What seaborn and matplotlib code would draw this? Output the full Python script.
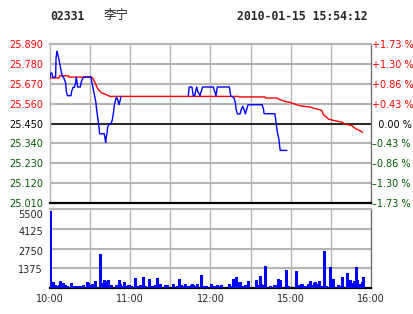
import numpy as np
import pandas as pd
import matplotlib
matplotlib.use("Agg")
import matplotlib.pyplot as plt
import matplotlib.transforms as mtransforms
import seaborn as sns

# ---------------- data ----------------
stock_code = "02331"
stock_name = "李宁"
timestamp = "2010-01-15 15:54:12"
prev_close = 25.45

price_ticks = [25.010, 25.120, 25.230, 25.340, 25.450, 25.560, 25.670, 25.780, 25.890]
vol_ticks = [1375, 2750, 4125, 5500]
time_ticks = [0, 60, 120, 180, 240]
time_labels = ["10:00", "11:00", "12:00", "15:00", "16:00"]

# price line, morning segment (trading minute, price)
am_min = [0, 0.5, 1.5, 2, 4.2, 4.5, 5.2, 5.7, 6.2, 6.7, 7.2, 7.7, 8.2, 8.7, 9.2, 10.0,
          10.7, 11.7, 12.2, 13.0, 15.7, 16.2, 17.2, 18.2, 19.2, 19.7, 20.2, 20.7, 22.7,
          23.2, 24.2, 25.2, 30.7, 31.2, 32.2, 33.2, 34.2, 34.9, 35.7, 36.6, 37.1, 40.6,
          41.1, 41.6, 42.1, 42.6, 43.1, 44.1, 45.6, 46.6, 47.6, 48.1, 49.1, 49.6, 50.6,
          51.6, 52.6, 53.1]
am_val = [25.707, 25.729, 25.729, 25.707, 25.707, 25.812, 25.849, 25.836, 25.821, 25.803,
          25.785, 25.766, 25.744, 25.729, 25.711, 25.707, 25.696, 25.674, 25.628, 25.604,
          25.604, 25.628, 25.650, 25.650, 25.677, 25.707, 25.677, 25.652, 25.652, 25.677,
          25.696, 25.707, 25.707, 25.683, 25.646, 25.609, 25.572, 25.526, 25.480, 25.431,
          25.393, 25.393, 25.370, 25.345, 25.375, 25.393, 25.431, 25.447, 25.447, 25.471,
          25.517, 25.554, 25.582, 25.597, 25.582, 25.554, 25.582, 25.600]

# price line, second segment
pm_min = [103.4, 104.1, 106.1, 107.1, 108.1, 109.7, 110.4, 111.1, 112.1, 113.1, 114.1,
          122.1, 123.1, 124.1, 125.1, 134.1, 134.6, 135.1, 137.6, 138.6, 139.1, 140.1,
          142.1, 143.1, 144.1, 145.1, 146.1, 147.1, 148.1, 158.6, 159.6, 160.1, 168.1,
          168.6, 169.1, 169.6, 170.1, 171.1, 171.6, 172.1, 177.1]
pm_val = [25.604, 25.652, 25.652, 25.604, 25.604, 25.652, 25.628, 25.619, 25.604, 25.628,
          25.652, 25.652, 25.628, 25.604, 25.652, 25.652, 25.628, 25.604, 25.591, 25.563,
          25.530, 25.503, 25.503, 25.530, 25.545, 25.526, 25.503, 25.530, 25.554, 25.554,
          25.530, 25.504, 25.504, 25.480, 25.453, 25.420, 25.397, 25.364, 25.333, 25.301,
          25.301]

# average price line
avg_min = [0, 6.7, 7.2, 13.7, 14.2, 31.2, 32.4, 33.6, 34.9, 36.1, 37.4, 38.6, 41.1, 43.6,
           44.9, 140.8, 141.2, 160.7, 161.1, 169.4, 172.0, 175.7, 179.4, 182.0, 187.0,
           194.4, 199.4, 203.2, 204.4, 208.2, 211.9, 218.2, 220.7, 225.7, 228.8, 231.8, 233.7]
avg_val = [25.702, 25.702, 25.714, 25.714, 25.707, 25.707, 25.696, 25.677, 25.655, 25.637,
           25.628, 25.619, 25.613, 25.604, 25.600, 25.600, 25.597, 25.597, 25.591, 25.591,
           25.582, 25.572, 25.567, 25.560, 25.548, 25.541, 25.530, 25.523, 25.499, 25.475,
           25.467, 25.458, 25.447, 25.438, 25.420, 25.410, 25.401]

# volume bars (trading minute, volume)
vol_min = [0.3, 1.0, 1.7, 2.5, 3.5, 4.2, 5.0, 6.7, 7.7, 8.5, 9.7, 10.5, 11.5, 12.7, 16.0,
           17.2, 19.0, 20.0, 20.5, 22.4, 23.4, 24.7, 28.0, 28.7, 29.7, 30.9, 31.7, 32.4,
           33.9, 37.4, 38.4, 39.9, 40.6, 41.4, 43.4, 44.6, 45.9, 49.6, 51.6, 52.6, 53.3,
           55.3, 57.1, 58.3, 59.3, 60.8, 63.8, 64.5, 65.3, 67.3, 68.3, 69.8, 70.8, 74.3,
           75.8, 76.5, 77.3, 78.5, 80.3, 81.5, 82.5, 86.2, 87.5, 92.0, 95.0, 96.7, 97.5,
           98.2, 99.5, 100.7, 103.2, 104.4, 105.7, 106.4, 107.2, 109.2, 110.2, 113.1,
           114.4, 115.6, 116.6, 120.6, 121.6, 124.4, 125.1, 126.1, 127.6, 128.1, 134.1,
           135.1, 136.1, 137.1, 138.1, 139.3, 140.1, 141.1, 142.3, 143.8, 145.5, 146.8,
           148.3, 154.3, 155.5, 157.3, 158.0, 159.3, 161.0, 164.3, 167.2, 168.0, 169.3,
           170.5, 172.3, 176.7, 178.2, 184.2, 185.4, 186.7, 187.7, 188.7, 190.2, 191.7,
           193.2, 194.6, 196.1, 197.4, 198.4, 199.4, 200.9, 202.4, 203.1, 205.1, 206.6,
           209.1, 209.6, 211.8, 215.3, 216.8, 218.3, 221.8, 224.6, 226.1, 227.1, 227.8,
           229.1, 229.8, 230.8, 232.3, 233.0, 233.8]
vol_val = [5365, 230, 300, 415, 230, 180, 180, 230, 510, 230, 350, 230, 230, 160, 350,
           160, 160, 160, 160, 160, 160, 230, 440, 370, 160, 205, 300, 300,
           510, 2380, 160, 350, 580, 530, 580, 160, 230, 230, 580, 300, 160,
           440, 160, 230, 230, 160, 715, 160, 160, 230, 160, 785, 160, 645,
           160, 160, 160, 230, 715, 160, 300, 230, 230, 300, 160, 645, 230,
           230, 160, 300, 160, 160, 230, 300, 230, 160, 300, 925,
           160, 160, 160, 300, 160, 160, 230, 160, 230, 160, 300,
           160, 160, 645, 580, 785, 390, 440, 440, 160, 230, 230,
           510, 580, 230, 855, 300, 230, 1550, 160, 230, 230, 230,
           645, 580, 1270, 160, 1200, 230, 160, 300, 300, 160, 160,
           300, 510, 230, 370, 440, 300, 510, 160, 160, 2610, 160,
           1480, 230, 645, 230, 160, 785, 1060, 580, 370, 510, 230,
           1480, 580, 300, 230, 440, 785]

# ---------------- style ----------------
sns.set_style("white")
plt.rcParams['font.family'] = ['DejaVu Sans', 'Noto Sans CJK SC']

W, H = 414, 314
fig = plt.figure(figsize=(W / 100, H / 100), dpi=100)
fig.patch.set_facecolor("white")

L, R = 50, 371
ax = fig.add_axes([L / W, 1 - 203 / H, (R - L) / W, (203 - 44) / H])
axv = fig.add_axes([L / W, 1 - 288.3 / H, (R - L) / W, (288.3 - 209) / H])

GRID = "#b4b4b4"
RED = "#ff0000"
GREEN = "#005a00"


def shift_label(lbl, dy_px):
    off = mtransforms.ScaledTranslation(0, -dy_px / 100, fig.dpi_scale_trans)
    lbl.set_transform(lbl.get_transform() + off)


def style_grid(a, yvals):
    a.vlines(list(range(30, 240, 30)), 0, 1, transform=a.get_xaxis_transform(),
             color=GRID, lw=1.0, zorder=1.5)
    a.hlines(yvals, 0, 240, color=GRID, lw=1.5, zorder=1.5)


# price panel
price_df = pd.DataFrame({
    "minute": am_min + pm_min,
    "price": am_val + pm_val,
    "seg": ["am"] * len(am_min) + ["pm"] * len(pm_min),
})
avg_df = pd.DataFrame({"minute": avg_min, "price": avg_val})

ax.set_xlim(0, 240)
ax.set_ylim(price_ticks[0], price_ticks[-1])
style_grid(ax, price_ticks[1:-1])
ax.axhline(prev_close, color="black", lw=1.1, zorder=2)
sns.lineplot(data=avg_df, x="minute", y="price", color=RED, lw=1.0, ax=ax,
             estimator=None, sort=False, zorder=3)
sns.lineplot(data=price_df, x="minute", y="price", units="seg", color="#0000ff", lw=1.0,
             ax=ax, estimator=None, sort=False, zorder=4)
ax.set_xlim(0, 240)
ax.set_ylim(price_ticks[0], price_ticks[-1])
ax.set_xticks(range(0, 241, 30))
ax.set_yticks(price_ticks)
ax.set_yticklabels([f"{p:.3f}" for p in price_ticks])
n = len(price_ticks)
for i, (lbl, p) in enumerate(zip(ax.get_yticklabels(), price_ticks)):
    if abs(p - prev_close) < 1e-6:
        lbl.set_color("black")
    elif p > prev_close:
        lbl.set_color(RED)
    else:
        lbl.set_color(GREEN)
    shift_label(lbl, -3 + 5 * i / (n - 1))
ax.tick_params(axis="y", length=0, pad=5, labelsize=7)
ax.tick_params(axis="x", length=0, labelbottom=False)
ax.grid(False)
ax.set_xlabel("")
ax.set_ylabel("")
ax.spines["top"].set_color(GRID)
ax.spines["top"].set_linewidth(1.5)
ax.spines["left"].set_color(GRID)
ax.spines["left"].set_linewidth(1.0)
ax.spines["right"].set_color("#707070")
ax.spines["right"].set_linewidth(1.0)
ax.spines["bottom"].set_color("black")
ax.spines["bottom"].set_linewidth(1.6)

# right percent axis
ax2 = ax.twinx()
ax2.set_ylim(price_ticks[0], price_ticks[-1])
ax2.set_yticks(price_ticks)
pct_labels = []
for p in price_ticks:
    pct = (p - prev_close) / prev_close * 100
    if abs(pct) < 1e-6:
        pct_labels.append("  0.00 %")
    elif pct > 0:
        pct_labels.append(f"+{pct:.2f} %")
    else:
        pct_labels.append(f"\u2013{abs(pct):.2f} %")
ax2.set_yticklabels(pct_labels)
for i, (lbl, p) in enumerate(zip(ax2.get_yticklabels(), price_ticks)):
    if abs(p - prev_close) < 1e-6:
        lbl.set_color("black")
    elif p > prev_close:
        lbl.set_color(RED)
    else:
        lbl.set_color(GREEN)
    shift_label(lbl, -3 + 5 * i / (n - 1))
ax2.tick_params(axis="y", length=0, pad=1, labelsize=7)
ax2.grid(False)
for s in ax2.spines.values():
    s.set_visible(False)
ax2.set_ylabel("")

# volume panel
axv.set_xlim(0, 240)
axv.set_ylim(0, 5500)
style_grid(axv, vol_ticks[:-1])
axv.vlines(vol_min, 0, vol_val, color="#0000ff", lw=0.75, antialiased=False, zorder=3)
axv.set_xlim(0, 240)
axv.set_ylim(0, 5500)
axv.set_xticks(range(0, 241, 30))
axv.set_yticks(vol_ticks)
axv.set_xticklabels(["" if t not in time_ticks else time_labels[time_ticks.index(t)]
                     for t in range(0, 241, 30)])
axv.set_yticklabels([str(v) for v in vol_ticks])
axv.tick_params(axis="y", length=0, pad=5, labelsize=7)
axv.tick_params(axis="x", length=0, pad=4, labelsize=7)
axv.grid(False)
axv.spines["top"].set_color(GRID)
axv.spines["top"].set_linewidth(1.5)
axv.spines["left"].set_color(GRID)
axv.spines["left"].set_linewidth(1.0)
axv.spines["right"].set_color("#707070")
axv.spines["right"].set_linewidth(1.0)
axv.spines["bottom"].set_color("black")
axv.spines["bottom"].set_linewidth(1.6)
for lbl, dy in zip(axv.get_yticklabels(), [0.8, 2.2, 2.3, 4.7]):
    shift_label(lbl, dy)

# header
fig.text(50 / W, 1 - 16 / H, stock_code, family="DejaVu Sans Mono", weight="bold",
         size=8.3, va="center", ha="left")
fig.text(104 / W, 1 - 16 / H, stock_name, family=["Noto Sans CJK SC", "DejaVu Sans"],
         size=9, va="center", ha="left")
fig.text(237 / W, 1 - 16 / H, timestamp, family="DejaVu Sans Mono", weight="bold",
         size=8.3, va="center", ha="left")

fig.savefig("out.png", dpi=100, facecolor="white")
